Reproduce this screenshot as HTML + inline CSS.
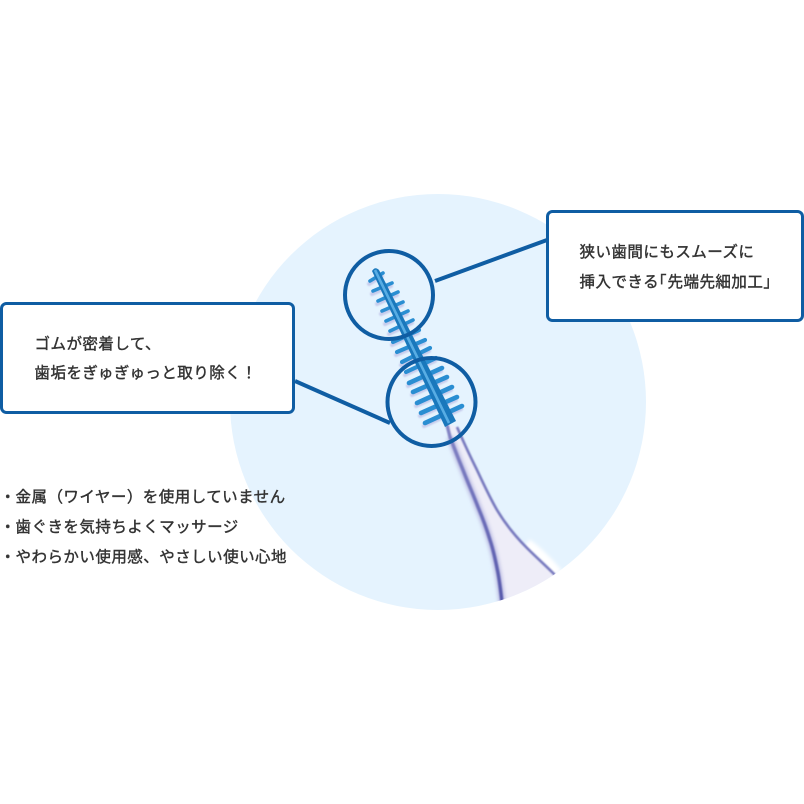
<!DOCTYPE html>
<html lang="ja">
<head>
<meta charset="utf-8">
<style>
html,body{margin:0;padding:0;background:#fff;width:804px;height:804px;overflow:hidden}
svg{display:block}
text{font-family:"Liberation Sans","Noto Sans CJK JP",sans-serif;font-size:15.500px;font-weight:400;letter-spacing:.47px;fill:#333;stroke:#333;stroke-width:.4px}
</style>
</head>
<body>
<svg width="804" height="804" viewBox="0 0 804 804" xmlns="http://www.w3.org/2000/svg">
<defs>
<clipPath id="bg"><circle cx="438" cy="402" r="208"/></clipPath>
<linearGradient id="edge" gradientUnits="userSpaceOnUse" x1="447" y1="425" x2="503" y2="605">
<stop offset="0" stop-color="#8384c4"/><stop offset=".5" stop-color="#6c6eb9"/><stop offset="1" stop-color="#5557a9"/>
</linearGradient>
<filter id="b1" x="-30%" y="-30%" width="160%" height="160%"><feGaussianBlur stdDeviation=".8"/></filter>
<filter id="b2" x="-30%" y="-30%" width="160%" height="160%"><feGaussianBlur stdDeviation="1.8"/></filter>
</defs>
<rect width="804" height="804" fill="#fff"/>
<circle cx="438" cy="402" r="208" fill="#e5f3fe"/>

<g clip-path="url(#bg)">
<path d="M527 543 Q543 555 558 573" fill="none" stroke="#fff" stroke-width="9" filter="url(#b2)"/>
<path d="M446 423 L450 437 C455 450 458 458 463 470 C468 483 473 494 478 507 C483 519 487 530 490 540 C494 552 496 563 498 573 C500 584 501 592 503 612 L565 585 L555 575 C546 566 537 558 527 548 C517 538 506 525 497 510 C490 498 484 485 477 470 C472 460 467 450 457 427 Z" fill="#eeedf8"/>
<path d="M450 437 C455 450 458 458 463 470 C468 483 473 494 478 507 C483 519 487 530 490 540 C494 552 496 563 498 573 C500 584 501 592 503 612" fill="none" stroke="#c0c0e4" stroke-width="7" filter="url(#b2)"/>
<path d="M447 425 L450 437 C455 450 458 458 463 470 C468 483 473 494 478 507 C483 519 487 530 490 540 C494 552 496 563 498 573 C500 584 501 592 503 612" fill="none" stroke="url(#edge)" stroke-width="3.400" filter="url(#b1)"/>
<path d="M457 427 C467 450 472 460 477 470 C484 485 490 498 497 510 C506 525 517 538 527 548 C537 558 546 566 555 575" fill="none" stroke="#7678bd" stroke-width="2.600" filter="url(#b1)"/>
</g>

<g stroke="#bfc3e8" stroke-linecap="round" stroke-width="4" filter="url(#b1)" opacity=".8" transform="translate(-1 3)">
<path d="M370 281L383 273M373 291L392 283M378 301L398 292M382 311L403 302M386 321L408 311M390 331L413 320M393 342L419 330M397 352L425 340M402 362L430 348M406 372L436 358M409 383L442 368M413 392L447 377M417 403L452 387M421 413L457 397M425 423L462 406"/>
</g>
<g stroke="#2a8ed2" stroke-linecap="round" fill="none">
<g stroke-width="3.600"><path d="M370 281L383 273M373 291L392 283M378 301L398 292M382 311L403 302M386 321L408 311M390 331L413 320"/></g>
<g stroke-width="4.200"><path d="M393 342L419 330M397 352L425 340M402 362L430 348M406 372L436 358"/></g>
<g stroke-width="4.600"><path d="M409 383L442 368M413 392L447 377M417 403L452 387M421 413L457 397M425 423L462 406"/></g>
</g>
<path d="M372 271 Q375 266 379 270 L456 421 L445 427 Z" fill="#1a78bc"/>
<path d="M375 270L449 423" stroke="#58ade4" stroke-width="2.600" fill="none"/>

<g fill="none" stroke="#0f5da3" stroke-width="4">
<path d="M435 281L547 240"/>
<path d="M295 381L390 423"/>
<circle cx="389" cy="295" r="44"/>
<circle cx="431.500" cy="402" r="44"/>
</g>

<rect x="547.500" y="211.500" width="255" height="109" rx="5" fill="#fff" stroke="#0f5da3" stroke-width="3"/>
<rect x="1.500" y="303.500" width="292" height="109" rx="5" fill="#fff" stroke="#0f5da3" stroke-width="3"/>

<text x="579.500" y="257">狭い歯間にもスムーズに</text>
<text y="287"><tspan x="579.500">挿入できる</tspan><tspan x="651">「</tspan><tspan x="667.500">先端先細加工」</tspan></text>
<text x="34.500" y="349">ゴムが密着して、</text>
<text x="34.500" y="378">歯垢をぎゅぎゅっと取り除く！</text>

<text x="0" y="502">・</text><text x="15.500" y="502">金属（ワイヤー）を使用していません</text>
<text x="0" y="532">・</text><text x="15.500" y="532">歯ぐきを気持ちよくマッサージ</text>
<text x="0" y="562">・</text><text x="15.500" y="562">やわらかい使用感、やさしい使い心地</text>
</svg>
</body>
</html>
